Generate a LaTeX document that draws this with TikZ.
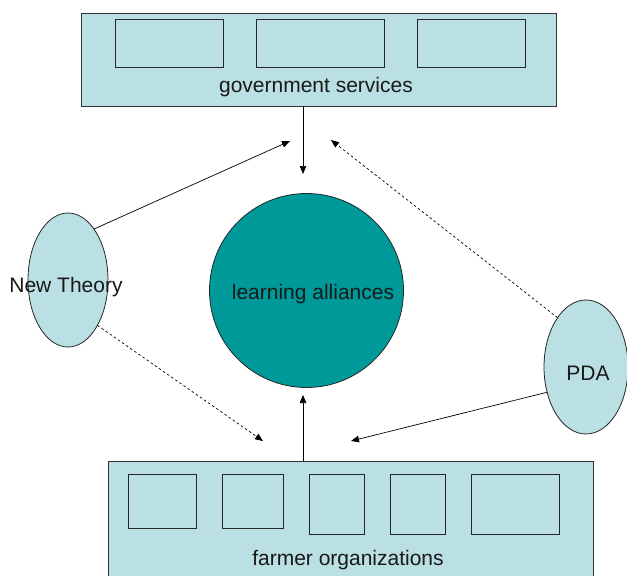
\documentclass[tikz,border=0pt]{standalone}
\usepackage{fontspec}
\setmainfont{Liberation Sans}
\usetikzlibrary{shapes.geometric,arrows.meta}
\definecolor{paleteal}{RGB}{187,224,227}
\definecolor{deepteal}{RGB}{0,153,153}
\begin{document}
\begin{tikzpicture}[x=1pt,y=-1pt,
  every node/.style={inner sep=0pt,outer sep=0pt},
  panel/.style={draw=black!80,line width=0.8pt,fill=paleteal,rectangle},
  unit/.style={draw=black!85,line width=0.8pt,rectangle},
  actor/.style={draw=black!85,line width=0.8pt,fill=paleteal,ellipse},
  hub/.style={draw=black!85,line width=0.8pt,fill=deepteal,circle,minimum size=194pt},
  caption/.style={font=\fontsize{21}{25}\selectfont,text=black!90},
  link/.style={line width=0.7pt,-{Triangle[length=8pt,width=6.5pt]}},
  weaklink/.style={link,dash pattern=on 2.5pt off 2.5pt}]
\clip (0,0) rectangle (627,576);
\fill[white] (0,0) rectangle (627,576);

% government services panel
\node[panel,minimum width=475pt,minimum height=93pt] (gov) at (318.5,59.5) {};
\node[unit,minimum width=108pt,minimum height=48pt] (g1) at (169,43) {};
\node[unit,minimum width=128pt,minimum height=48pt] (g2) at (320,43) {};
\node[unit,minimum width=108pt,minimum height=48pt] (g3) at (471,43) {};
\node[caption] (govtext) at (316,87) {government services};

% farmer organizations panel
\node[panel,minimum width=485pt,minimum height=138pt] (farm) at (350.5,530) {};
\node[unit,minimum width=68pt,minimum height=54pt] (f1) at (162,501) {};
\node[unit,minimum width=61pt,minimum height=54pt] (f2) at (252.5,501) {};
\node[unit,minimum width=55pt,minimum height=60pt] (f3) at (336.5,504) {};
\node[unit,minimum width=55pt,minimum height=60pt] (f4) at (417.5,504) {};
\node[unit,minimum width=88pt,minimum height=60pt] (f5) at (515,504) {};
\node[caption] (farmtext) at (348,560) {farmer organizations};

% central hub
\node[hub] (la) at (306.5,290.5) {};
\node[caption] (latext) at (313,294) {learning alliances};

% side actors
\node[actor,minimum width=80pt,minimum height=134pt] (nt) at (68,280) {};
\node[caption] (nttext) at (66,287) {New Theory};
\node[actor,minimum width=84pt,minimum height=134pt] (pda) at (586,367) {};
\node[caption] (pdatext) at (588,373) {PDA};

% arrow end points
\coordinate (tGov) at (303,174);
\coordinate (tFarm) at (303,395);
\coordinate (tNtUp) at (290,141);
\coordinate (tPdaUp) at (331,140);
\coordinate (tNtDown) at (263,441);
\coordinate (tPdaDown) at (351,441);

% connectors
\draw[link] (gov.south -| tGov) -- (tGov);
\draw[link] (farm.north -| tFarm) -- (tFarm);
\draw[link] (nt.63) -- (tNtUp);
\draw[weaklink] (pda.120) -- (tPdaUp);
\draw[weaklink] (nt.-57) -- (tNtDown);
\draw[link] (pda.213) -- (tPdaDown);
\end{tikzpicture}
\end{document}
